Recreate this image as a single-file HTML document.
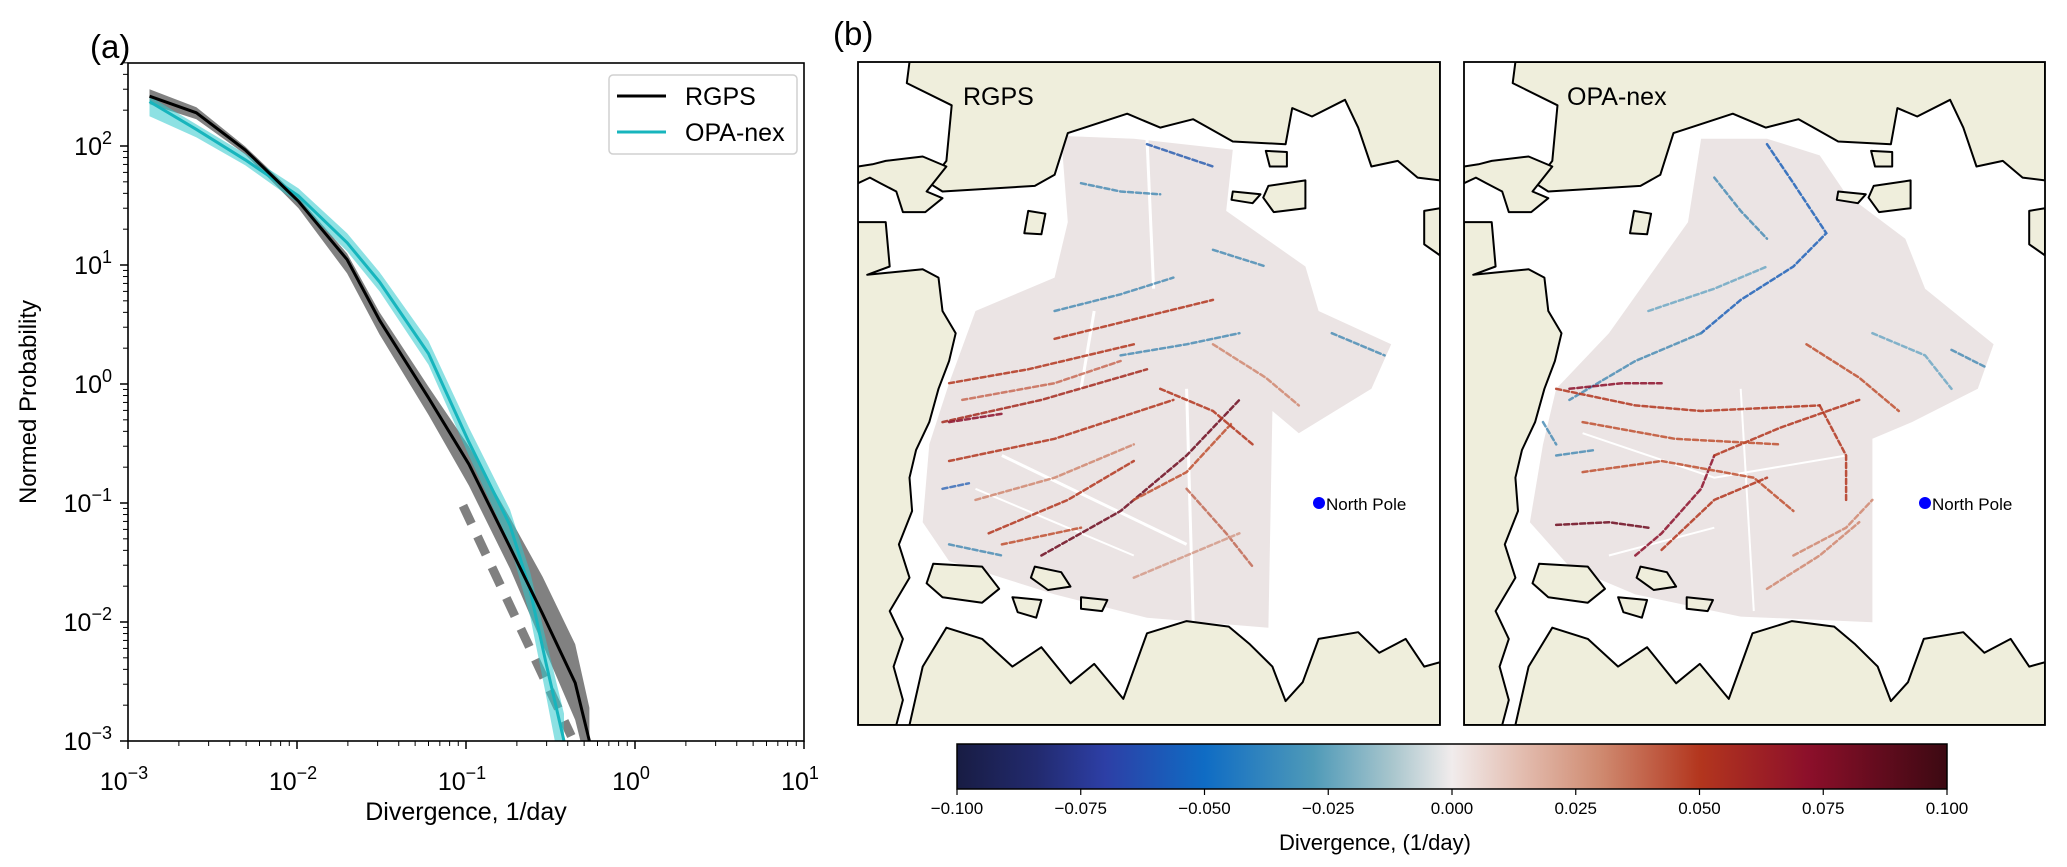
<!DOCTYPE html>
<html><head><meta charset="utf-8"><style>
html,body{margin:0;padding:0;background:#fff;}
svg{display:block;font-family:"Liberation Sans","DejaVu Sans",sans-serif;}
</style></head><body>
<svg id="fig" width="2067" height="867" viewBox="0 0 2067 867" xmlns="http://www.w3.org/2000/svg">
<defs>
<clipPath id="clipA"><rect x="128" y="63" width="676" height="678"/></clipPath>
<clipPath id="clipM1"><rect x="858" y="62" width="582" height="663"/></clipPath>
<clipPath id="clipM2"><rect x="1464" y="62" width="581" height="663"/></clipPath>
<linearGradient id="balance" x1="0" x2="1" y1="0" y2="0">
<stop offset="0" stop-color="#181c43"/><stop offset="0.08" stop-color="#222a6e"/>
<stop offset="0.15" stop-color="#2d3fa6"/><stop offset="0.25" stop-color="#0f6cc4"/>
<stop offset="0.36" stop-color="#4f9ab8"/><stop offset="0.44" stop-color="#a9c6cd"/>
<stop offset="0.5" stop-color="#f1ecec"/><stop offset="0.57" stop-color="#e3bdb0"/>
<stop offset="0.65" stop-color="#cf8a70"/><stop offset="0.75" stop-color="#b3361e"/>
<stop offset="0.86" stop-color="#8c0f2a"/><stop offset="1" stop-color="#3c0912"/>
</linearGradient>
</defs>
<text x="90" y="58" font-size="33">(a)</text>
<text x="833" y="45" font-size="33">(b)</text>
<g id="panelA"></g>
<g id="maps"></g>
<g id="cbar"></g>
</svg>
<script>
const NS="http://www.w3.org/2000/svg";
// ---- Panel (a) data ----
const xVals=[0.00134,0.00254,0.00494,0.0102,0.0198,0.0308,0.060,0.104,0.182,0.284,0.443,0.537];
const rgpsY=[262,190,92.7,34.3,11.1,3.43,0.766,0.212,0.0425,0.0117,0.00308,0.001];
const rgpsUp=[300,212,99,37,12.5,4.0,0.95,0.30,0.075,0.024,0.0065,0.0019];
const rgpsLo=[225,168,85,30,8.5,2.6,0.55,0.14,0.028,0.0065,0.0015,0.0005];
const opaX=[0.00134,0.00254,0.00494,0.0102,0.0198,0.0308,0.060,0.104,0.182,0.240,0.298,0.380];
const opaY=[236,138,76.5,38.1,15.4,7.2,1.80,0.325,0.065,0.0182,0.00448,0.001];
const opaUp=[262,152,86,44,18.5,8.7,2.3,0.43,0.088,0.026,0.007,0.0017];
const opaLo=[178,118,69,33,13,6.0,1.45,0.25,0.045,0.011,0.0024,0.0004];
const dashX=[0.096,0.42];
const dashY=[0.095,0.0011];
const xTickExp=[-3,-2,-1,0,1];
const yTickExp=[-3,-2,-1,0,1,2];

function xs(v){return 128+(Math.log10(v)+3)*169;}
function ys(v){return 741-(Math.log10(v)+3)*119;}
function mk(tag,attrs,parent){const e=document.createElementNS(NS,tag);for(const k in attrs)e.setAttribute(k,attrs[k]);parent.appendChild(e);return e;}

const A=document.getElementById('panelA');
const plot=mk('g',{'clip-path':'url(#clipA)'},A);
function band(xa,up,lo,fill,op,name){
  let d='M'+xa.map((x,i)=>xs(x).toFixed(1)+','+ys(up[i]).toFixed(1)).join('L');
  for(let i=xa.length-1;i>=0;i--) d+='L'+xs(xa[i]).toFixed(1)+','+ys(lo[i]).toFixed(1);
  const p=mk('path',{d:d+'Z',fill:fill,'fill-opacity':op},plot);
  
  
}
function line(xa,ya,col,w,name,extra){
  const p=mk('path',Object.assign({d:'M'+xa.map((x,i)=>xs(x).toFixed(1)+','+ys(ya[i]).toFixed(1)).join('L'),fill:'none',stroke:col,'stroke-width':w,'stroke-linejoin':'round'},extra||{}),plot);
  
  
}
band(xVals,rgpsUp,rgpsLo,'#7a7a7a',0.95,'rgps-spread-band');
line(dashX,dashY,'#808080',9,'rgps-dashed-reference',{'stroke-dasharray':'20 14'});
band(opaX,opaUp,opaLo,'#30c8cc',0.55,'opa-nex-spread-band');
line(opaX,opaY,'#17b5bd',3,'opa-nex-line');
line(xVals,rgpsY,'#000',3,'rgps-line');
const fr=mk('rect',{x:128,y:63,width:676,height:678,fill:'none',stroke:'#000','stroke-width':1.6},A);


xTickExp.forEach(e=>{
  const x=xs(Math.pow(10,e));
  mk('line',{x1:x,x2:x,y1:741,y2:749,stroke:'#000','stroke-width':1.5},A);
  const t=mk('text',{x:x-4,y:790,'font-size':25,'text-anchor':'middle'},A);
  
  
  t.innerHTML='10<tspan dy="-11" font-size="18">'+(e<0?'\u2212'+(-e):e)+'</tspan>';
  if(e<1) for(let m=2;m<10;m++){const xm=xs(m*Math.pow(10,e));mk('line',{x1:xm,x2:xm,y1:741,y2:746,stroke:'#000','stroke-width':1},A);}
});
yTickExp.forEach(e=>{
  const y=ys(Math.pow(10,e));
  mk('line',{x1:120,x2:128,y1:y,y2:y,stroke:'#000','stroke-width':1.5},A);
  const t=mk('text',{x:112,y:y+9,'font-size':25,'text-anchor':'end'},A);
  
  
  t.innerHTML='10<tspan dy="-11" font-size="18">'+(e<0?'\u2212'+(-e):e)+'</tspan>';
});
for(let e=-3;e<3;e++)for(let m=2;m<10;m++){const v=m*Math.pow(10,e);if(v<Math.pow(10,2.7)){const y=ys(v);mk('line',{x1:123,x2:128,y1:y,y2:y,stroke:'#000','stroke-width':1},A);}}
const xl=mk('text',{x:466,y:820,'font-size':25,'text-anchor':'middle'},A);xl.textContent='Divergence, 1/day';

const yl=mk('text',{x:0,y:0,'font-size':24,'text-anchor':'middle',transform:'translate(36,402) rotate(-90)'},A);yl.textContent='Normed Probability';

const lg=mk('g',{},A);
mk('rect',{x:609,y:75,width:188,height:79,rx:4,fill:'#fff','fill-opacity':0.85,stroke:'#d0d0d0','stroke-width':1.5},lg);
mk('line',{x1:617,x2:666,y1:96,y2:96,stroke:'#000','stroke-width':3},lg);
mk('line',{x1:617,x2:666,y1:132,y2:132,stroke:'#17b5bd','stroke-width':3},lg);
const l1=mk('text',{x:685,y:105,'font-size':25},lg);l1.textContent='RGPS';
const l2=mk('text',{x:685,y:141,'font-size':25},lg);l2.textContent='OPA-nex';

// ---- Maps ----
const topLand=[[690,112],[688,150],[722,190],[718,290],[705,330],[715,345],[785,335],[800,315],[810,240],[855,205],[880,230],[905,215],[935,255],[975,260],[980,195],[995,210],[1020,180],[1030,230],[1040,300],[1060,290],[1075,320],[1092,325],[1092,112]];
const nwLand=[[651,300],[662,296],[672,290],[700,282],[718,300],[703,345],[715,357],[702,382],[685,382],[680,345],[668,330],[660,320],[651,330]];
const westLand=[[651,400],[672,400],[675,480],[658,495],[700,485],[712,500],[715,560],[725,600],[720,650],[712,700],[705,760],[695,810],[690,860],[692,920],[682,980],[690,1040],[675,1100],[685,1150],[678,1200],[685,1260],[680,1305],[651,1305]];
const southLand=[[690,1305],[700,1200],[718,1130],[745,1150],[768,1200],[790,1165],[812,1230],[830,1195],[852,1258],[870,1140],[900,1118],[932,1128],[948,1160],[965,1200],[975,1262],[988,1228],[1000,1150],[1030,1138],[1046,1175],[1066,1150],[1080,1200],[1092,1192],[1092,1305]];
const islands=[
 [[708,1015],[745,1020],[758,1060],[745,1085],[715,1075],[703,1050]],
 [[785,1020],[805,1030],[812,1056],[795,1062],[782,1040]],
 [[820,1075],[840,1080],[836,1100],[820,1096]],
 [[768,1075],[790,1080],[786,1112],[772,1102]],
 [[960,272],[976,274],[976,300],[963,300]],
 [[935,345],[956,350],[950,366],[934,360]],
 [[962,335],[990,325],[990,375],[966,382],[958,356]],
 [[780,380],[793,385],[790,422],[777,420]],
 [[1080,380],[1092,375],[1092,460],[1080,440]]
];
const iceL=[[805,245],[860,250],[935,270],[930,380],[990,480],[1000,560],[1055,620],[1040,700],[985,780],[965,740],[962,1130],[870,1112],[800,1070],[720,1010],[700,940],[705,800],[720,690],[740,560],[800,500],[810,400]];
const iceR=[[1290,250],[1340,250],[1380,280],[1400,350],[1445,430],[1460,520],[1512,620],[1500,700],[1450,760],[1420,790],[1420,1120],[1320,1110],[1240,1070],[1190,1020],[1160,940],[1170,800],[1180,700],[1220,600],[1250,500],[1280,400]];
const gapsL=[[[740,880],[800,940],[860,1000]],[[870,250],[875,520]],[[900,700],[905,1120]],[[830,560],[820,700]],[[760,820],[900,980]]];
const gapsR=[[[1200,780],[1300,860],[1400,820]],[[1320,700],[1330,1100]],[[1220,1000],[1300,950]]];
const streaksL=[
 {c:'#b3361e',p:[[720,690],[780,665],[860,620]]},{c:'#a42a1e',p:[[715,760],[790,720],[870,665]]},
 {c:'#b3361e',p:[[720,830],[800,790],[890,720]]},{c:'#6d0a1e',p:[[790,1000],[850,920],[900,820],[940,720]]},
 {c:'#b3361e',p:[[750,960],[810,900],[860,830]]},{c:'#c05030',p:[[860,900],[900,850],[935,760]]},
 {c:'#2d5fb0',p:[[870,260],[895,280],[920,300]]},{c:'#4b8db5',p:[[820,330],[850,345],[880,350]]},
 {c:'#b3361e',p:[[880,700],[920,740],[950,800]]},{c:'#4b8db5',p:[[1010,600],[1050,640]]},
 {c:'#8c0f2a',p:[[720,760],[760,745]]},{c:'#3a6db8',p:[[715,880],[735,870]]},
 {c:'#c26a55',p:[[900,880],[930,960],[950,1020]]},
 {c:'#c86a55',p:[[730,720],[800,690],[850,650]]},{c:'#4b8db5',p:[[800,560],[850,530],[890,500]]},
 {c:'#b3361e',p:[[800,610],[860,575],[920,540]]},{c:'#d08770',p:[[740,900],[800,860],[860,800]]},
 {c:'#4b8db5',p:[[850,640],[900,620],[940,600]]},{c:'#c05030',p:[[760,980],[820,950]]},
 {c:'#d08770',p:[[920,620],[960,680],[985,730]]},{c:'#4b8db5',p:[[920,450],[960,480]]},
 {c:'#d49a88',p:[[860,1040],[900,1000],[940,960]]},{c:'#4b8db5',p:[[720,980],[760,1000]]}
];
const streaksR=[
 {c:'#1f62b8',p:[[1340,260],[1360,330],[1385,420],[1360,480],[1320,540],[1290,600]]},
 {c:'#4b8db5',p:[[1290,600],[1240,650],[1190,720]]},{c:'#b3361e',p:[[1180,700],[1240,730],[1290,740],[1380,730]]},
 {c:'#6d0a1e',p:[[1180,945],[1220,940],[1250,950]]},{c:'#8c0f2a',p:[[1240,1000],[1260,960],[1290,880],[1300,820]]},
 {c:'#b3361e',p:[[1300,820],[1350,770],[1410,720]]},{c:'#b3361e',p:[[1380,730],[1400,820],[1400,900]]},
 {c:'#c05030',p:[[1200,850],[1260,830],[1330,860],[1360,920]]},{c:'#4b8db5',p:[[1480,630],[1505,660]]},
 {c:'#d08770',p:[[1360,1000],[1400,950],[1420,900]]},{c:'#4b8db5',p:[[1170,760],[1180,800]]},
 {c:'#6fa8c4',p:[[1250,560],[1300,520],[1340,480]]},{c:'#4b8db5',p:[[1300,320],[1320,380],[1340,430]]},
 {c:'#c05030',p:[[1200,760],[1270,790],[1350,800]]},{c:'#8c0f2a',p:[[1190,700],[1230,690],[1260,690]]},
 {c:'#d08770',p:[[1340,1060],[1380,1000],[1410,940]]},{c:'#6fa8c4',p:[[1420,600],[1460,640],[1480,700]]},
 {c:'#c05030',p:[[1370,620],[1410,680],[1440,740]]},{c:'#4b8db5',p:[[1180,820],[1210,810]]},
 {c:'#b3361e',p:[[1260,990],[1300,900],[1340,860]]}
];
const M=document.getElementById('maps');
function drawMap(x0,w,baseX,clip,ice,streaks,gaps,label,name){
  const g=mk('g',{'clip-path':'url('+clip+')'},M);
  
  
  const X=v=>x0+(v-baseX)/441*w, Y=v=>62+(v-112)/1193*663;
  const pts=(arr,off)=>arr.map(p=>X(p[0]+off).toFixed(1)+','+Y(p[1]).toFixed(1)).join(' ');
  const offL=baseX-651;
  const f=mk('polygon',{points:pts(ice,0),fill:'#ebe4e4'},g);
  
  gaps.forEach(gp=>{const e=mk('polyline',{points:pts(gp,0),fill:'none',stroke:'#fff','stroke-width':gp.length===2&&label==='RGPS'?3:2},g);
    });
  streaks.forEach(s=>{const e=mk('polyline',{points:pts(s.p,0),fill:'none',stroke:s.c,'stroke-width':2.5,'stroke-dasharray':'5 3','stroke-linecap':'round','stroke-opacity':0.85},g);
    });
  [topLand,nwLand,westLand,southLand].concat(islands).forEach(poly=>{
    const e=mk('polygon',{points:pts(poly,offL),fill:'#efeedc',stroke:'#000','stroke-width':2,'stroke-linejoin':'round'},g);
    });
  const fr=mk('rect',{x:x0,y:62,width:w,height:663,fill:'none',stroke:'#000','stroke-width':1.8},M);
  
  const t=mk('text',{x:x0+(label==='RGPS'?105:103),y:105,'font-size':25},M);t.textContent=label;
  
  const d=mk('circle',{cx:x0+(1319-858),cy:503,r:6,fill:'#0000ff'},M);
  
  const nt=mk('text',{x:x0+(1326-858),y:510,'font-size':17},M);nt.textContent='North Pole';
  
}
drawMap(858,582,651,'#clipM1',iceL,streaksL,gapsL,'RGPS','rgps-map');
drawMap(1464,581,1110,'#clipM2',iceR,streaksR,gapsR,'OPA-nex','opa-nex-map');

// ---- Colorbar ----
const cbTicks=[-0.1,-0.075,-0.05,-0.025,0,0.025,0.05,0.075,0.1];
const cbLabels=['\u22120.100','\u22120.075','\u22120.050','\u22120.025','0.000','0.025','0.050','0.075','0.100'];
const C=document.getElementById('cbar');
const cx=v=>957+(v+0.1)/0.2*990;
mk('rect',{x:957,y:744,width:990,height:45,fill:'url(#balance)',stroke:'#000','stroke-width':1.5},C);
cbTicks.forEach((v,i)=>{
  mk('line',{x1:cx(v),x2:cx(v),y1:789,y2:795,stroke:'#000','stroke-width':1.2},C);
  const t=mk('text',{x:cx(v),y:814,'font-size':17,'text-anchor':'middle'},C);t.textContent=cbLabels[i];
  
});
const cl=mk('text',{x:1375,y:850,'font-size':22,'text-anchor':'middle'},C);cl.textContent='Divergence, (1/day)';

</script>
</body></html>
